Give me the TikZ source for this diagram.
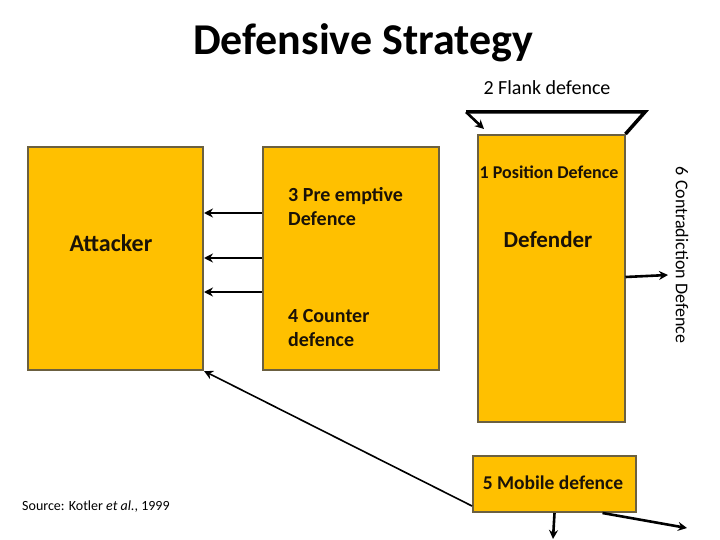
\documentclass[tikz,border=0pt]{standalone}
\usepackage{fontspec}
\setmainfont{Carlito}
\usetikzlibrary{arrows.meta,calc}
\definecolor{boxfill}{HTML}{FFC000}
\definecolor{boxline}{HTML}{6B6040}
\definecolor{ink}{HTML}{1A1208}
\tikzset{
  ybox/.style={draw=boxline,fill=boxfill,line width=2pt,minimum width=#1,inner sep=0pt},
  conn/.style={line width=2.6pt,-{Stealth[length=9pt,width=9pt]}},
  thinconn/.style={line width=1.6pt,-{Stealth[length=9pt,width=9pt]}},
  txt/.style={font=\fontsize{20}{24}\selectfont,inner sep=0pt},
  btxt/.style={font=\fontsize{#1}{24}\selectfont\bfseries,inner sep=0pt,text=ink}
}
\begin{document}
\begin{tikzpicture}[x=1pt,y=-1pt]
\useasboundingbox (0,0) rectangle (720,540);
% boxes
\node[ybox=175pt,minimum height=223pt] (att) at (115.5,258.5) {};
\node[ybox=176pt,minimum height=223pt] (mid) at (351,258.5) {};
\node[ybox=147pt,minimum height=287pt] (def) at (551,278.5) {};
\node[ybox=163pt,minimum height=56pt] (mob) at (554.5,484) {};
% title and labels
\node[font=\fontsize{44}{48}\selectfont\bfseries,inner sep=0pt] (title) at (363,43) {Defensive Strategy};
\node[txt] (flank) at (547,88) {2 Flank defence};
\node[btxt=24] (attl) at (111,243) {Attacker};
\node[btxt=20,align=left,anchor=west] (pre) at (288,207) {3 Pre emptive\\Defence};
\node[btxt=20,align=left,anchor=west] (cnt) at (288,328) {4 Counter\\defence};
\node[btxt=18] (pos) at (549,172) {1 Position Defence};
\node[btxt=23] (defl) at (548,240) {Defender};
\node[btxt=19.5] (mobl) at (553,483) {5 Mobile defence};
\node[font=\fontsize{18}{22}\selectfont,inner sep=0pt,rotate=-90] (contra) at (682,255) {6 Contradiction Defence};
\node[font=\fontsize{14}{17}\selectfont,inner sep=0pt,anchor=west] (src) at (22,507) {Source: Kotler \textit{et al.}, 1999};
% flank
\coordinate (fl1) at (466,112);
\coordinate (fl2) at (645,112);
\coordinate (flT) at (484,129);
\draw[line width=3.5pt,line join=miter] (fl1) -- (fl2) -- (def.north east);
\draw[conn] (fl1) -- (flT);
% left arrows
\draw[conn] ([yshift=45.5pt]mid.west) -- ([yshift=45.5pt]att.east);
\draw[conn] ([yshift=0.5pt]mid.west) -- ([yshift=0.5pt]att.east);
\draw[conn] ([yshift=-33.5pt]mid.west) -- ([yshift=-33.5pt]att.east);
% contradiction
\coordinate (ct) at (668,275);
\draw[conn] ([yshift=1.5pt]def.east) -- (ct);
% mobile
\coordinate (mdown) at (553,539);
\coordinate (mright) at (687,528);
\draw[thinconn] ([yshift=7pt]mob.south west) -- (att.south east);
\draw[conn] (mob.south) -- (mdown);
\draw[conn] ([xshift=48pt]mob.south) -- (mright);
\end{tikzpicture}
\end{document}
